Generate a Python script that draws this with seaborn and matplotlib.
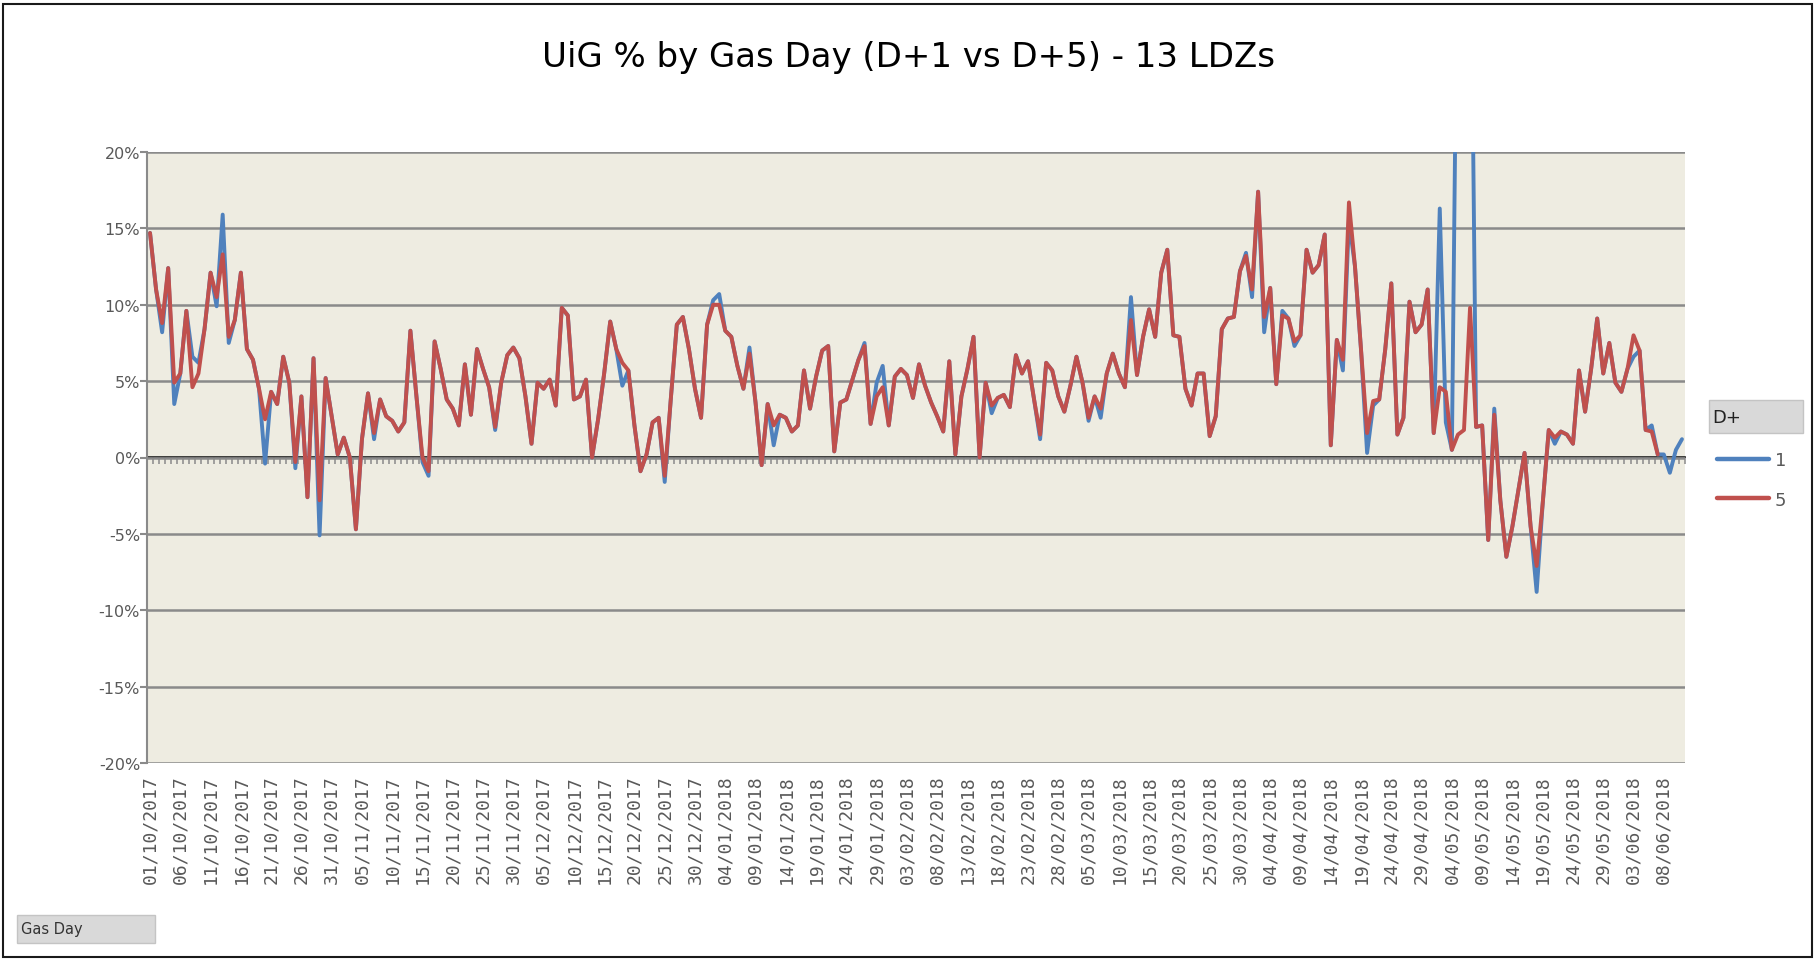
"""
UiG % by Gas Day (D+1 vs D+5) - 13 LDZs
Excel-style line chart rebuilt with seaborn, saved to out.png
"""

import matplotlib
matplotlib.use("Agg")
import matplotlib.pyplot as plt
from matplotlib.patches import Rectangle
import numpy as np
import pandas as pd
import seaborn as sns

# --- data -------------------------------------------------------------
GAS_DAYS = pd.date_range("2017-10-01", "2018-06-11", freq="D")

UIG_D1 = [
    14.7, 11.0, 8.2, 12.4, 3.5, 5.5, 9.6, 6.6, 6.2, 8.4,
    12.1, 9.9, 15.9, 7.5, 9.0, 12.1, 7.1, 6.4, 4.5, -0.4,
    4.3, 3.5, 6.6, 4.9, -0.7, 4.0, -2.6, 6.5, -5.1, 5.2,
    2.7, 0.2, 1.3, 0.0, -4.7, 1.2, 4.2, 1.2, 3.8, 2.7,
    2.4, 1.7, 2.3, 8.3, 4.0, -0.3, -1.2, 7.6, 5.8, 3.8,
    3.2, 2.1, 6.1, 2.8, 7.1, 5.8, 4.6, 1.8, 4.9, 6.7,
    7.2, 6.5, 4.0, 0.9, 4.9, 4.5, 5.1, 3.4, 9.8, 9.3,
    3.8, 4.0, 5.1, 0.0, 2.5, 5.5, 8.9, 7.1, 4.7, 5.7,
    2.1, -0.9, 0.2, 2.3, 2.6, -1.6, 3.8, 8.7, 9.2, 7.1,
    4.5, 2.6, 8.7, 10.3, 10.7, 8.3, 7.9, 6.0, 4.5, 7.2,
    3.6, -0.5, 3.5, 0.8, 2.8, 2.6, 1.7, 2.1, 5.7, 3.2,
    5.3, 7.0, 7.3, 0.4, 3.6, 3.8, 5.1, 6.4, 7.5, 2.2,
    4.9, 6.0, 2.1, 5.3, 5.8, 5.4, 3.9, 6.1, 4.7, 3.6,
    2.7, 1.7, 6.3, 0.2, 4.0, 5.8, 7.9, 0.0, 4.9, 2.9,
    3.9, 4.1, 3.3, 6.7, 5.5, 6.3, 3.8, 1.2, 6.2, 5.7,
    4.0, 3.0, 4.7, 6.6, 4.9, 2.4, 4.0, 2.6, 5.5, 6.8,
    5.5, 4.6, 10.5, 5.4, 7.9, 9.7, 7.9, 12.1, 13.6, 8.0,
    7.9, 4.5, 3.4, 5.5, 5.5, 1.4, 2.7, 8.4, 9.1, 9.2,
    12.2, 13.4, 10.5, 17.4, 8.2, 11.1, 4.8, 9.6, 9.1, 7.3,
    8.0, 13.6, 12.1, 12.6, 14.6, 0.8, 7.7, 5.7, 15.5, 12.5,
    7.0, 0.3, 3.4, 3.8, 7.1, 11.4, 1.5, 2.6, 10.2, 8.2,
    8.7, 11.0, 1.6, 16.3, 2.3, 0.5, 38.0, 45.0, 40.0, 2.0,
    2.1, -5.4, 3.2, -2.8, -6.5, -4.5, -2.1, 0.3, -4.5, -8.8,
    -3.0, 1.8, 0.9, 1.7, 1.5, 0.9, 5.7, 3.0, 5.8, 9.1,
    5.5, 7.5, 4.9, 4.3, 5.8, 6.6, 7.0, 1.8, 2.1, 0.2,
    0.2, -1.0, 0.5, 1.2,
]

UIG_D5 = [
    14.7, 11.0, 8.8, 12.4, 4.9, 5.5, 9.6, 4.6, 5.5, 8.4,
    12.1, 10.5, 13.3, 7.9, 9.0, 12.1, 7.1, 6.4, 4.5, 2.5,
    4.3, 3.5, 6.6, 4.9, -0.3, 4.0, -2.6, 6.5, -2.8, 5.2,
    2.7, 0.2, 1.3, 0.0, -4.7, 1.2, 4.2, 1.6, 3.8, 2.7,
    2.4, 1.7, 2.3, 8.3, 4.0, 0.0, -0.9, 7.6, 5.8, 3.8,
    3.2, 2.1, 6.1, 2.8, 7.1, 5.8, 4.6, 2.0, 4.9, 6.7,
    7.2, 6.5, 4.0, 0.9, 4.9, 4.5, 5.1, 3.4, 9.8, 9.3,
    3.8, 4.0, 5.1, 0.0, 2.5, 5.5, 8.9, 7.1, 6.2, 5.7,
    2.1, -0.9, 0.2, 2.3, 2.6, -1.2, 3.8, 8.7, 9.2, 7.1,
    4.5, 2.6, 8.7, 10.0, 10.0, 8.3, 7.9, 6.0, 4.5, 6.8,
    3.6, -0.5, 3.5, 2.1, 2.8, 2.6, 1.7, 2.1, 5.7, 3.2,
    5.3, 7.0, 7.3, 0.4, 3.6, 3.8, 5.1, 6.4, 7.3, 2.2,
    4.0, 4.6, 2.1, 5.3, 5.8, 5.4, 3.9, 6.1, 4.7, 3.6,
    2.7, 1.7, 6.3, 0.2, 4.0, 5.8, 7.9, 0.0, 4.9, 3.4,
    3.9, 4.1, 3.3, 6.7, 5.5, 6.3, 3.8, 1.5, 6.2, 5.7,
    4.0, 3.0, 4.7, 6.6, 4.9, 2.6, 4.0, 3.2, 5.5, 6.8,
    5.5, 4.6, 9.0, 5.4, 7.9, 9.7, 7.9, 12.1, 13.6, 8.0,
    7.9, 4.5, 3.4, 5.5, 5.5, 1.4, 2.7, 8.4, 9.1, 9.2,
    12.2, 13.2, 11.0, 17.4, 9.2, 11.1, 4.8, 9.3, 9.1, 7.6,
    8.0, 13.6, 12.1, 12.6, 14.6, 0.8, 7.7, 6.4, 16.7, 12.5,
    7.0, 1.6, 3.7, 3.8, 7.1, 11.4, 1.5, 2.6, 10.2, 8.2,
    8.7, 11.0, 1.6, 4.6, 4.3, 0.5, 1.5, 1.8, 9.8, 2.0,
    2.1, -5.4, 2.8, -2.8, -6.5, -4.5, -2.1, 0.3, -4.5, -7.1,
    -3.0, 1.8, 1.3, 1.7, 1.5, 0.9, 5.7, 3.0, 5.8, 9.1,
    5.5, 7.5, 4.9, 4.3, 5.8, 8.0, 7.0, 1.8, 1.7, 0.2,
    np.nan, np.nan, np.nan, np.nan,
]

SERIES_NAMES = ["1", "5"]
COLORS = {"1": "#4F81BD", "5": "#C0504D"}
Y_TICKS = [-20, -15, -10, -5, 0, 5, 10, 15, 20]
TITLE = "UiG % by Gas Day (D+1 vs D+5) - 13 LDZs"

GRID = "#8a8a8a"
TEXT_GREY = "#595959"


def main() -> None:
    n_days = len(GAS_DAYS)
    df = pd.DataFrame({"day": np.arange(n_days), "1": UIG_D1, "5": UIG_D5})
    long = df.melt(id_vars="day", var_name="D+", value_name="uig").dropna()

    sns.set_theme(style="white")
    plt.rcParams["font.family"] = ["DejaVu Sans"]

    fig = plt.figure(figsize=(18.18, 9.62), dpi=100)
    ax = fig.add_axes([147 / 1818, 198 / 962, 1538 / 1818, 611 / 962])
    ax.set_facecolor("#EEECE1")

    sns.lineplot(data=long, x="day", y="uig", hue="D+", hue_order=SERIES_NAMES,
                 palette=COLORS, linewidth=2.8, estimator=None, sort=False, ax=ax)

    # axes, grid
    ax.set_xlim(-0.5, n_days - 0.5)
    ax.set_ylim(Y_TICKS[0], Y_TICKS[-1])
    ax.set_yticks(Y_TICKS)
    ax.set_yticklabels([f"{v}%" for v in Y_TICKS], fontsize=11.5, color=TEXT_GREY)
    ax.set_axisbelow(True)
    ax.grid(axis="y", color=GRID, linewidth=1.8)
    ax.grid(axis="x", visible=False)
    for side in ["top", "right", "bottom"]:
        ax.spines[side].set_visible(False)
    ax.spines["left"].set_color(GRID)
    ax.spines["left"].set_linewidth(1.5)
    ax.tick_params(axis="y", left=True, length=5, width=1.5, color=GRID, pad=0)

    tick_pos = np.arange(0, n_days, 5)
    ax.set_xticks(tick_pos)
    ax.set_xticklabels([GAS_DAYS[i].strftime("%d/%m/%Y") for i in tick_pos],
                       rotation=90, fontsize=13, color=TEXT_GREY,
                       family="DejaVu Sans Mono")
    ax.tick_params(axis="x", bottom=False, length=0, pad=8)
    ax.set_xlabel("")
    ax.set_ylabel("")

    # category tick marks along the 0% line
    sec = ax.secondary_xaxis(0.5)
    sec.set_xticks(np.arange(-0.5, n_days, 1.0))
    sec.tick_params(axis="x", direction="in", length=5, width=1.1, color=GRID,
                    labeltop=False, labelbottom=False)

    # legend on the right with a "D+" field button
    handles, labels = ax.get_legend_handles_labels()
    ax.legend(handles, labels, loc="upper left",
              bbox_to_anchor=(1717 / 1818, 1 - 452 / 962),
              bbox_transform=fig.transFigure, frameon=False, fontsize=13,
              labelcolor=TEXT_GREY, handlelength=2.9, handletextpad=0.3,
              labelspacing=1.2, borderpad=0, borderaxespad=0)
    for line in ax.get_legend().get_lines():
        line.set_linewidth(3.2)

    fig.patches.append(Rectangle((1709 / 1818, 1 - 434 / 962), 94 / 1818, 33 / 962,
                                 transform=fig.transFigure, facecolor="#d9d9d9",
                                 edgecolor="#c4c4c4", linewidth=1))
    fig.text(1712 / 1818, 1 - 418 / 962, "D+", fontsize=13, color="#222222",
             ha="left", va="center")

    # "Gas Day" field button bottom-left
    fig.patches.append(Rectangle((17 / 1818, 1 - 944 / 962), 138 / 1818, 28 / 962,
                                 transform=fig.transFigure, facecolor="#d9d9d9",
                                 edgecolor="#c4c4c4", linewidth=1))
    fig.text(21 / 1818, 1 - 930 / 962, "Gas Day", fontsize=10.5, color="#333333",
             ha="left", va="center")

    # title and outer frame
    fig.text(0.5, 1 - 58 / 962, TITLE, fontsize=24.5, color="black",
             ha="center", va="center")
    fig.patches.append(Rectangle((3 / 1818, 4 / 962), 1809 / 1818, 953 / 962,
                                 transform=fig.transFigure, fill=False,
                                 edgecolor="#1a1a1a", linewidth=1.5))

    fig.savefig("out.png", dpi=100, facecolor="white")
    plt.close(fig)


if __name__ == "__main__":
    main()
